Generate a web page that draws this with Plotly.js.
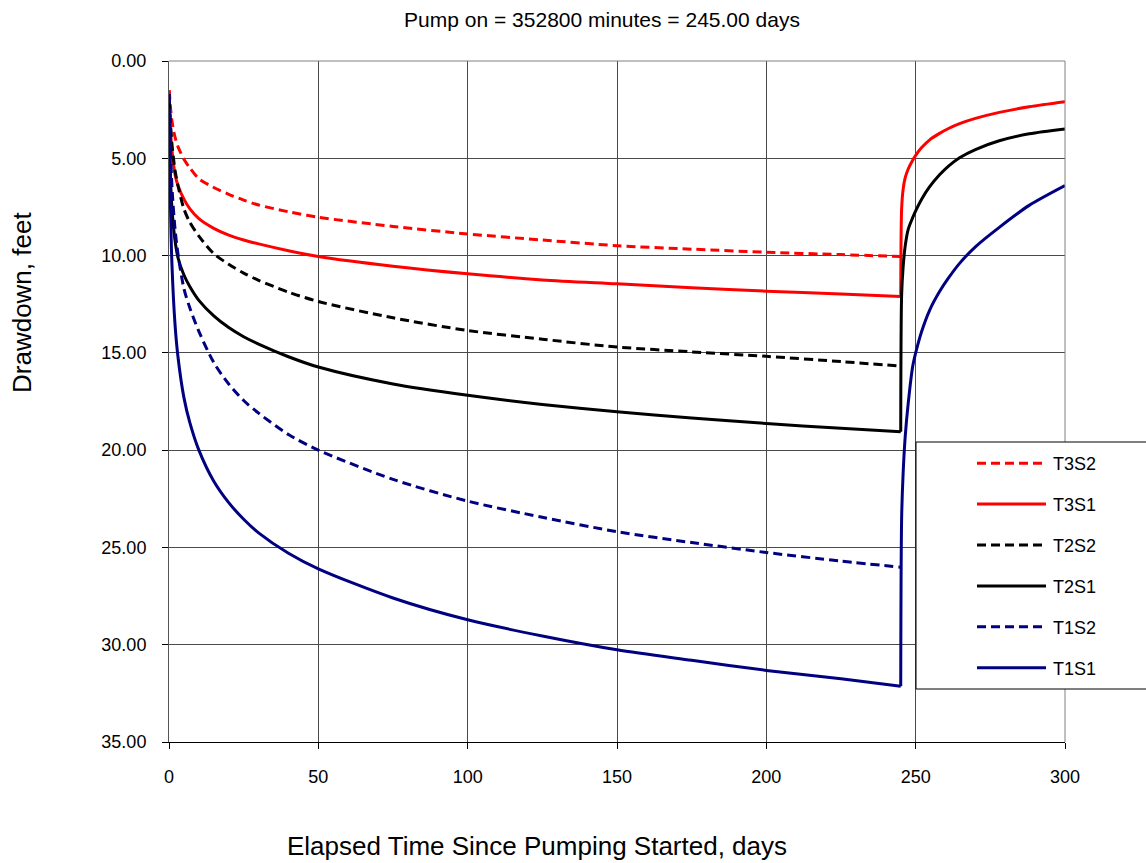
<!DOCTYPE html>
<html><head><meta charset="utf-8">
<script src="https://cdn.plot.ly/plotly-3.0.1.min.js"></script>
<style>html,body{margin:0;padding:0;background:#fff}#chart{width:1146px;height:863px}</style>
</head><body><div id="chart"></div>
<script>
// Elapsed time, days (pumping period and recovery period)
const pumpDays = [0.1,0.5,1,2,3,5,7,10,15,20,25,30,40,50,75,100,125,150,175,200,225,245];
const recoveryDays = [245.3,245.8,246.5,247.5,249,250,252,254.7,258,261,264.7,270,278,288,300];

// Drawdown, feet
const T3S2 = [1.5,2.4,3.1,3.9,4.4,5.05,5.5,6.05,6.5,6.85,7.15,7.4,7.75,8.03,8.5,8.89,9.2,9.49,9.67,9.83,9.95,10.05];
const T3S1_pump = [1.8,3.5,4.6,5.8,6.4,7.1,7.6,8.1,8.6,8.95,9.2,9.4,9.75,10.05,10.55,10.94,11.25,11.45,11.65,11.83,11.97,12.1];
const T3S1_rec = [7.6,6.6,6.0,5.55,5.1,4.85,4.45,4.05,3.72,3.47,3.22,2.95,2.64,2.35,2.09];
const T2S2 = [2.0,3.2,4.3,5.6,6.4,7.6,8.3,9.0,9.9,10.45,10.9,11.27,11.88,12.36,13.2,13.85,14.3,14.7,14.95,15.18,15.45,15.68];
const T2S1_pump = [3.0,6.0,7.6,9.2,10.1,11.0,11.6,12.3,13.1,13.7,14.17,14.55,15.2,15.73,16.6,17.18,17.65,18.03,18.35,18.63,18.88,19.06];
const T2S1_rec = [12.0,10.6,9.5,8.65,8.05,7.7,7.1,6.46,5.85,5.4,4.97,4.55,4.1,3.74,3.49];
const T1S2 = [1.7,4.5,6.5,8.6,9.9,11.7,12.7,13.9,15.5,16.6,17.45,18.1,19.2,20.0,21.5,22.62,23.45,24.19,24.75,25.26,25.7,26.02];
const T1S1_pump = [2.5,7.5,10.5,13.5,15.2,17.3,18.6,20.0,21.6,22.7,23.55,24.25,25.3,26.1,27.6,28.72,29.55,30.26,30.8,31.32,31.75,32.14];
const T1S1_rec = [23.5,21.2,19.3,17.6,15.7,15.0,13.9,12.8,11.85,11.15,10.4,9.55,8.55,7.42,6.4];

const seriesNames = ['T3S2','T3S1','T2S2','T2S1','T1S2','T1S1'];
const xTicks = [0,50,100,150,200,250,300];
const yTicks = [0,5,10,15,20,25,30,35];

const RED = '#FF0000', BLACK = '#000000', NAVY = '#000080';
const DASH = '9px,5px';

const specs = [
  {name: seriesNames[0], y: T3S2, rec: null, color: RED, dash: DASH},
  {name: seriesNames[1], y: T3S1_pump, rec: T3S1_rec, color: RED, dash: 'solid'},
  {name: seriesNames[2], y: T2S2, rec: null, color: BLACK, dash: DASH},
  {name: seriesNames[3], y: T2S1_pump, rec: T2S1_rec, color: BLACK, dash: 'solid'},
  {name: seriesNames[4], y: T1S2, rec: null, color: NAVY, dash: DASH},
  {name: seriesNames[5], y: T1S1_pump, rec: T1S1_rec, color: NAVY, dash: 'solid'}
];

const traces = [];
specs.forEach((s, i) => {
  const line = {color: s.color, width: 3, dash: s.dash, shape: 'spline', smoothing: 0.8};
  traces.push({type: 'scatter', mode: 'lines', name: s.name, x: pumpDays, y: s.y,
               legendgroup: 'g' + i, line: line});
  if (s.rec) {
    // recovery continues from the last pumping point
    const lastX = pumpDays[pumpDays.length - 1], lastY = s.y[s.y.length - 1];
    traces.push({type: 'scatter', mode: 'lines', name: s.name, showlegend: false,
                 x: [lastX].concat(recoveryDays), y: [lastY].concat(s.rec),
                 legendgroup: 'g' + i, line: line});
  }
});

const FONT = '"Liberation Sans", Arial, sans-serif';
const L = 169, R = 1065, T = 61, B = 742, W = 1146, H = 863;
const px2x = p => (p - L) / (R - L);
const px2y = p => 1 - (p - T) / (B - T);

const layout = {
  width: W, height: H,
  margin: {l: L, r: W - R, t: T, b: H - B, pad: 0},
  paper_bgcolor: '#fff', plot_bgcolor: '#fff',
  font: {family: FONT, color: '#000', size: 17},
  title: {text: 'Pump on = 352800 minutes = 245.00 days', font: {family: FONT, size: 21, color: '#000'},
          x: px2x(602), xref: 'paper', xanchor: 'center', y: 1 - 20 / H, yref: 'container', yanchor: 'middle'},
  xaxis: {range: [0, 300], tickvals: xTicks, ticktext: xTicks.map(String), showgrid: true, gridcolor: '#4a4a4a', gridwidth: 1,
          zeroline: false, showline: true, linecolor: '#000', linewidth: 1, ticks: 'outside', ticklen: 6, tickcolor: '#000',
          ticklabelstandoff: 12, tickfont: {family: FONT, size: 18}},
  yaxis: {range: [35, 0], tickvals: yTicks, ticktext: yTicks.map(v => v.toFixed(2)), showgrid: true, gridcolor: '#4a4a4a', gridwidth: 1,
          zeroline: false, showline: true, linecolor: '#555', linewidth: 1, ticks: 'outside', ticklen: 6, tickcolor: '#000',
          ticklabelstandoff: 12, tickfont: {family: FONT, size: 18}},
  showlegend: true,
  legend: {x: px2x(973), y: px2y(445), xanchor: 'left', yanchor: 'top', bgcolor: 'rgba(0,0,0,0)', borderwidth: 0,
           font: {family: FONT, size: 18, color: '#000'}, tracegroupgap: 14.5, traceorder: 'grouped', itemwidth: 70},
  shapes: [
    {type: 'line', xref: 'paper', yref: 'paper', x0: 1, x1: 1, y0: 0, y1: 1, line: {color: '#808080', width: 1}, layer: 'above'},
    {type: 'line', xref: 'paper', yref: 'paper', x0: 0, x1: 1, y0: 1, y1: 1, line: {color: '#808080', width: 1}, layer: 'above'},
    {type: 'rect', xref: 'paper', yref: 'paper', x0: px2x(916), x1: px2x(1152), y0: px2y(689), y1: px2y(442),
     fillcolor: '#fff', line: {color: '#000', width: 1}, layer: 'above'}
  ],
  annotations: [
    {text: 'Elapsed Time Since Pumping Started, days', xref: 'paper', yref: 'paper', x: px2x(537), y: px2y(846),
     xanchor: 'center', yanchor: 'middle', showarrow: false, font: {family: FONT, size: 26, color: '#000'}},
    {text: 'Drawdown, feet', xref: 'paper', yref: 'paper', x: px2x(22), y: px2y(303), textangle: -90,
     xanchor: 'center', yanchor: 'middle', showarrow: false, font: {family: FONT, size: 26, color: '#000'}}
  ]
};

Plotly.newPlot('chart', traces, layout, {displayModeBar: false, staticPlot: true}).then(gd => {
  // lengthen the legend line samples to match the reference legend
  gd.querySelectorAll('.legend .legendlines path').forEach(p => p.setAttribute('d', 'M4,0h69'));
});
</script>
</body></html>
